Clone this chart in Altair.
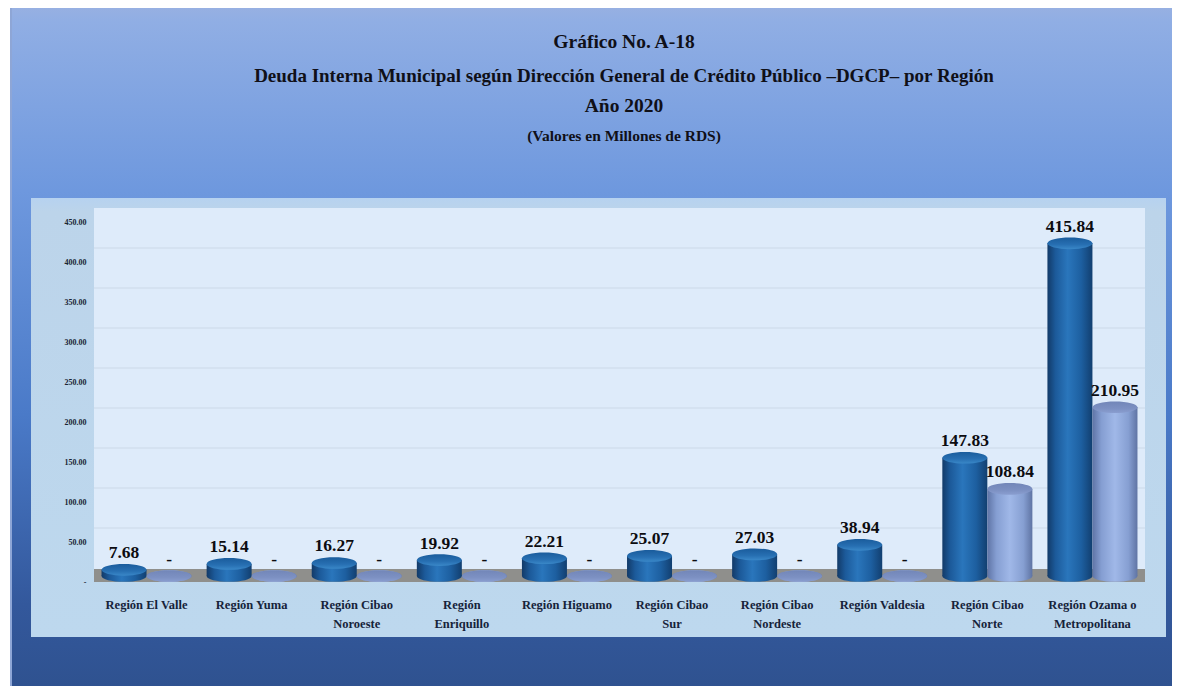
import json
import altair as alt
import pandas as pd

regiones = ["Región El Valle", "Región Yuma", "Región Cibao Noroeste", "Región Enriquillo",
            "Región Higuamo", "Región Cibao Sur", "Región Cibao Nordeste", "Región Valdesia",
            "Región Cibao Norte", "Región Ozama o Metropolitana"]
lineas = {
    "Región Cibao Noroeste": ["Región Cibao", "Noroeste"],
    "Región Enriquillo": ["Región", "Enriquillo"],
    "Región Cibao Sur": ["Región Cibao", "Sur"],
    "Región Cibao Nordeste": ["Región Cibao", "Nordeste"],
    "Región Cibao Norte": ["Región Cibao", "Norte"],
    "Región Ozama o Metropolitana": ["Región Ozama o", "Metropolitana"],
}
serie_a = [7.68, 15.14, 16.27, 19.92, 22.21, 25.07, 27.03, 38.94, 147.83, 415.84]
serie_b = [0, 0, 0, 0, 0, 0, 0, 0, 108.84, 210.95]
ticks = [0, 50, 100, 150, 200, 250, 300, 350, 400, 450]
titulo = ["Gráfico No. A-18",
          "Deuda Interna Municipal según Dirección General de Crédito Público –DGCP– por Región",
          "Año 2020",
          "(Valores en Millones de RDS)"]

FONT = "Liberation Serif"
W, H = 1051, 374
PAD_L, PAD_T = 86, 200
ELLIPSE = "M-1,0 A1,0.26 0 1,1 1,0 A1,0.26 0 1,1 -1,0 Z"
BAR_W = 45

df = pd.DataFrame(
    [{"region": r, "serie": "A", "valor": v, "base": 0} for r, v in zip(regiones, serie_a)]
    + [{"region": r, "serie": "B", "valor": v, "base": 0} for r, v in zip(regiones, serie_b)]
)
one = pd.DataFrame({"a": [0]})
tick_df = pd.DataFrame({"valor": [t for t in ticks if 0 < t < 450]})


def hgrad(*stops):
    return alt.Gradient(gradient="linear", x1=0, x2=1, y1=0, y2=0,
                        stops=[alt.GradientStop(offset=o, color=c) for o, c in stops])


def vgrad(*stops):
    return alt.Gradient(gradient="linear", x1=0, x2=0, y1=0, y2=1,
                        stops=[alt.GradientStop(offset=o, color=c) for o, c in stops])


yscale = alt.Scale(domain=[-7.5, 460], nice=False, zero=False)
yaxis = alt.Axis(title=None, values=ticks, domain=False, ticks=False, grid=False,
                 labelFont=FONT, labelFontSize=8, labelFontWeight="bold", labelColor="#1a2433",
                 labelPadding=8, labelOffset=6, zindex=2,
                 labelExpr="datum.value === 0 ? '-' : format(datum.value, '.2f')")
xaxis = alt.Axis(title=None, domain=False, ticks=False, grid=False, labelAngle=0,
                 labelFont=FONT, labelFontSize=12.5, labelFontWeight="bold", labelColor="#16233a",
                 labelPadding=16, labelLineHeight=19, labelLimit=200, zindex=2,
                 labelExpr=f"{json.dumps(lineas, ensure_ascii=False)}[datum.label] || datum.label")
x_enc = alt.X("region:N", sort=regiones, axis=xaxis,
              scale=alt.Scale(paddingInner=0.143, paddingOuter=0.0715))
xo_enc = alt.XOffset("serie:N", scale=alt.Scale(domain=["A", "B"]))
y_enc = alt.Y("valor:Q", scale=yscale, axis=yaxis)
y_base = alt.Y("base:Q", scale=yscale, axis=yaxis)


def box(fill, x0, x1, y0, y1):
    return alt.Chart(one).mark_rect(fill=fill, strokeWidth=0).encode(
        x=alt.value(x0 - 94), x2=alt.value(x1 - 94),
        y=alt.value(y0 - 208), y2=alt.value(y1 - 208))


fondo = box(vgrad((0, "#97b0e2"), (0.02, "#90aee4"), (0.27, "#6e98de"), (0.6, "#4a7ac8"),
                  (0.88, "#33589c"), (1, "#2f5290")), 10, 1172, 8, 686)
borde = box("#8ea6d6", 10, 12, 8, 686)
panel = box(vgrad((0, "#b6d2f0"), (0.03, "#bcd4ea"), (1, "#bdd8ee")), 31, 1166, 198, 637)
pared = box("#deebfa", 94, 1145, 208, 582)
rejilla = alt.Chart(tick_df).mark_rule(color="#d2dfee", strokeWidth=1.5, yOffset=-8).encode(y=y_enc)
suelo = box("#8f8f8c", 94, 1145, 569, 582)

capas = [fondo, borde, panel, pared, rejilla, suelo]


def linea_titulo(texto, centro_y, tam):
    return alt.Chart(pd.DataFrame({"t": [texto]})).mark_text(
        font=FONT, fontSize=tam, fontWeight="bold", color="#101018", align="center", baseline="middle"
    ).encode(x=alt.value(624 - 94), y=alt.value(centro_y - 208), text="t:N")


capas += [linea_titulo(titulo[0], 42, 19.5), linea_titulo(titulo[1], 76, 19),
          linea_titulo(titulo[2], 106, 19.5), linea_titulo(titulo[3], 136, 15.5)]

estilos = {
    "A": dict(
        cuerpo=hgrad((0, "#123a68"), (0.18, "#1c5a9a"), (0.45, "#2a76bc"), (0.75, "#1d5fa0"), (1, "#123f70")),
        tapa=vgrad((0, "#1a5c9c"), (0.6, "#276fb2"), (1, "#3a88c8")),
    ),
    "B": dict(
        cuerpo=hgrad((0, "#5f74a6"), (0.2, "#859ed2"), (0.5, "#a0b8e8"), (0.8, "#869fd2"), (1, "#5f74a4")),
        tapa=vgrad((0, "#7286b8"), (0.6, "#7c90c2"), (1, "#8a9ed0")),
    ),
}
for serie in ["A", "B"]:
    st = estilos[serie]
    base = alt.Chart(df).transform_filter(f"datum.serie === '{serie}'")
    capas.append(base.mark_point(shape=ELLIPSE, size=BAR_W ** 2, filled=True, opacity=1,
                                 fill=st["cuerpo"], strokeWidth=0)
                 .encode(x=x_enc, xOffset=xo_enc, y=y_base))
    capas.append(base.mark_bar(fill=st["cuerpo"], strokeWidth=0, width=BAR_W)
                 .encode(x=x_enc, xOffset=xo_enc, y=y_enc, y2=alt.Y2("base:Q")))
    capas.append(base.mark_point(shape=ELLIPSE, size=BAR_W ** 2, filled=True, opacity=1,
                                 fill=st["tapa"], strokeWidth=0)
                 .encode(x=x_enc, xOffset=xo_enc, y=y_enc))

etiquetas = (
    alt.Chart(df)
    .transform_calculate(txt="datum.valor === 0 ? '-' : format(datum.valor, '.2f')")
    .mark_text(font=FONT, fontSize=17.5, fontWeight="bold", color="#0c0c10", dy=-11.5,
               baseline="alphabetic", align="center")
    .encode(x=x_enc, xOffset=xo_enc, y=y_enc, text="txt:N")
)
capas.append(etiquetas)

chart = (
    alt.layer(*capas)
    .properties(
        width=W, height=H,
        autosize=alt.AutoSizeParams(type="none"),
        padding={"left": PAD_L, "top": PAD_T, "right": 1164 - PAD_L - W, "bottom": 678 - PAD_T - H},
    )
    .configure_view(strokeWidth=0)
)
chart.save("out.html", embed_options={"renderer": "svg", "actions": False})
